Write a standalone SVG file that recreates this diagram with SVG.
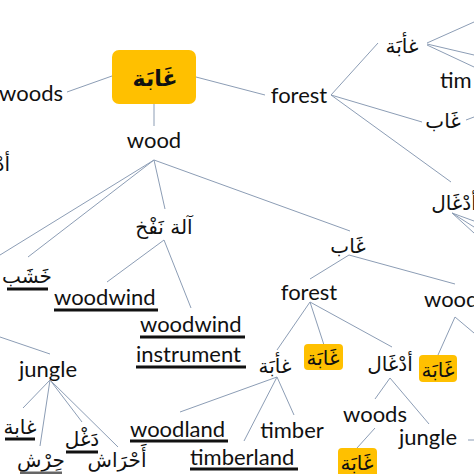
<svg xmlns="http://www.w3.org/2000/svg" width="474" height="474" viewBox="0 0 474 474">
<style>
.en{font-family:Lato,"Open Sans",sans-serif;font-size:22px;fill:#111}
.ar{font-family:"DejaVu Sans",sans-serif;font-size:20px;fill:#111;text-anchor:middle}
.box{fill:#FFC000}
.ul{stroke:#111;stroke-width:3}
#connectors line{stroke:#8C9DB5;stroke-width:1}
</style>
<rect width="474" height="474" fill="#fff"/>
<g id="connectors">
<line x1="67" y1="92" x2="112" y2="76"/>
<line x1="196" y1="77" x2="265" y2="95"/>
<line x1="154" y1="104" x2="154" y2="126"/>
<line x1="154" y1="160" x2="0" y2="255"/>
<line x1="154" y1="160" x2="28" y2="257"/>
<line x1="154" y1="160" x2="165" y2="209"/>
<line x1="154" y1="160" x2="350" y2="231"/>
<line x1="331" y1="95" x2="378" y2="43"/>
<line x1="331" y1="95" x2="422" y2="122"/>
<line x1="331" y1="95" x2="451" y2="182"/>
<line x1="427" y1="43" x2="474" y2="22"/>
<line x1="427" y1="44" x2="474" y2="55"/>
<line x1="427" y1="45" x2="474" y2="67"/>
<line x1="466" y1="120" x2="474" y2="117"/>
<line x1="452" y1="213" x2="474" y2="221"/>
<line x1="452" y1="213" x2="474" y2="227"/>
<line x1="452" y1="213" x2="474" y2="233"/>
<line x1="0" y1="337" x2="50" y2="354"/>
<line x1="50" y1="380" x2="23" y2="408"/>
<line x1="50" y1="380" x2="40" y2="446"/>
<line x1="50" y1="380" x2="82" y2="422"/>
<line x1="50" y1="380" x2="118" y2="447"/>
<line x1="164" y1="240" x2="107" y2="282"/>
<line x1="164" y1="240" x2="191" y2="308"/>
<line x1="349" y1="255" x2="310" y2="279"/>
<line x1="349" y1="255" x2="455" y2="284"/>
<line x1="310" y1="302" x2="277" y2="350"/>
<line x1="310" y1="302" x2="324" y2="345"/>
<line x1="310" y1="302" x2="392" y2="347"/>
<line x1="277" y1="377" x2="180" y2="412"/>
<line x1="277" y1="377" x2="244" y2="441"/>
<line x1="277" y1="377" x2="294" y2="415"/>
<line x1="455" y1="317" x2="438" y2="355"/>
<line x1="455" y1="317" x2="474" y2="333"/>
<line x1="390" y1="378" x2="375" y2="399"/>
<line x1="390" y1="378" x2="429" y2="424"/>
<line x1="375" y1="428" x2="357" y2="448"/>
<line x1="468" y1="440" x2="474" y2="440"/>
</g>
<g id="n-root"><rect class="box" x="112" y="50" width="84" height="54" rx="7"/><text class="ar" x="155" y="86" style="font-size:22px;font-weight:bold">غَابَة</text></g>
<g id="n-woods-l"><text class="en" x="63" y="101" text-anchor="end">woods</text></g>
<g id="n-forest-t"><text class="en" x="299" y="103" text-anchor="middle">forest</text></g>
<g id="n-wood"><text class="en" x="154" y="148" text-anchor="middle">wood</text></g>
<g id="n-ghaaba-t"><text class="ar" x="402" y="53">غأبَة</text></g>
<g id="n-tim"><text class="en" x="440" y="88">tim</text></g>
<g id="n-ghaab-t"><text class="ar" x="443" y="128">غَاب</text></g>
<g id="n-adghal-t"><text class="ar" x="454" y="210">أدْغَال</text></g>
<g id="n-partial-l"><text class="ar" x="10" y="171" style="text-anchor:end">أدْغَال</text></g>
<g id="n-aala"><text class="ar" x="164" y="234">آلة نَفْخ</text></g>
<g id="n-khashab"><text class="ar" x="27" y="283">خَشَب</text><line class="ul" x1="7" y1="289" x2="48" y2="289"/></g>
<g id="n-woodwind"><text class="en" x="54" y="305">woodwind</text><line class="ul" x1="54" y1="310" x2="158" y2="310"/></g>
<g id="n-woodwind-instr"><text class="en" x="140" y="332">woodwind</text><line class="ul" x1="140" y1="337" x2="245" y2="337"/><text class="en" x="136" y="362">instrument</text><line class="ul" x1="136" y1="367" x2="246" y2="367"/></g>
<g id="n-ghaab-m"><text class="ar" x="348" y="253">غَاب</text></g>
<g id="n-forest-m"><text class="en" x="309" y="300" text-anchor="middle">forest</text></g>
<g id="n-wood-r"><text class="en" x="424" y="307">wood</text></g>
<g id="n-jungle-l"><text class="en" x="48" y="377" text-anchor="middle">jungle</text></g>
<g id="n-ghaaba-m"><text class="ar" x="275" y="373">غأبَة</text></g>
<g id="n-orange-m"><rect class="box" x="304" y="344" width="39" height="26" rx="4"/><text class="ar" x="323" y="365">غَابَة</text></g>
<g id="n-adghal-m"><text class="ar" x="390" y="371">أدْغَال</text></g>
<g id="n-orange-r"><rect class="box" x="419" y="355" width="38" height="27" rx="4"/><text class="ar" x="438" y="377">غَابَة</text></g>
<g id="n-woodland"><text class="en" x="130" y="437">woodland</text><line class="ul" x1="130" y1="441" x2="228" y2="441"/></g>
<g id="n-timberland"><text class="en" x="190" y="465">timberland</text><line class="ul" x1="190" y1="469" x2="298" y2="469"/></g>
<g id="n-timber"><text class="en" x="292" y="438" text-anchor="middle">timber</text></g>
<g id="n-woods-m"><text class="en" x="375" y="422" text-anchor="middle">woods</text></g>
<g id="n-jungle-r"><text class="en" x="428" y="445" text-anchor="middle">jungle</text></g>
<g id="n-orange-b"><rect class="box" x="338" y="448" width="39" height="30" rx="4"/><text class="ar" x="357" y="470">غَابَة</text></g>
<g id="n-ghaaba-j"><text class="ar" x="20" y="434">غابة</text><line class="ul" x1="5" y1="439" x2="35" y2="439"/></g>
<g id="n-hirsh"><text class="ar" x="41" y="467">حِرْش</text><line x1="20" y1="473" x2="62" y2="473" stroke="#666" stroke-width="3"/></g>
<g id="n-daghl"><text class="ar" x="82" y="446">دَغْل</text><line class="ul" x1="66" y1="452" x2="98" y2="452"/></g>
<g id="n-ahrash"><text class="ar" x="117" y="467">أَحْرَاش</text></g>
</svg>
